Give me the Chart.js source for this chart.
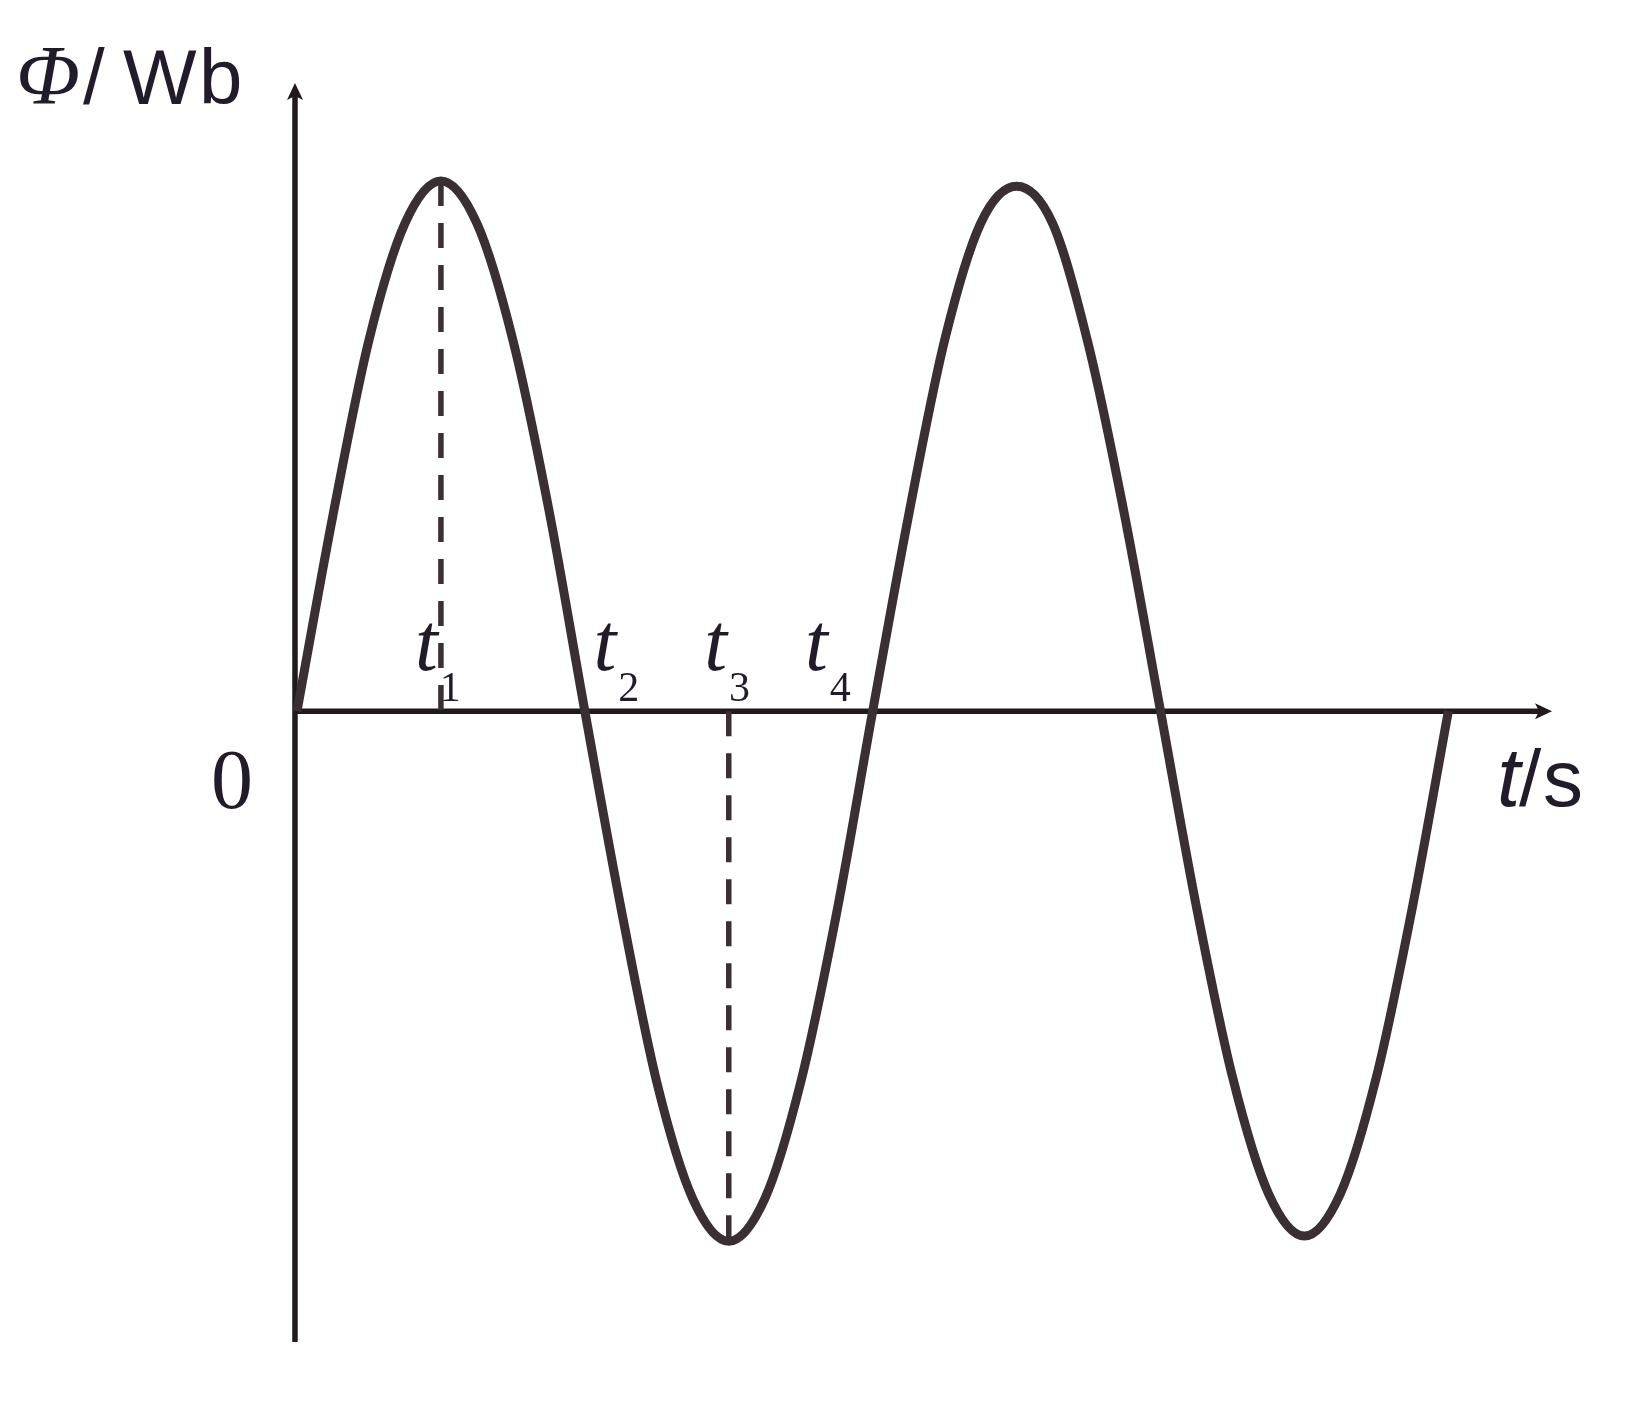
<!DOCTYPE html>
<html>
<head>
<meta charset="utf-8">
<script src="https://cdn.jsdelivr.net/npm/chart.js@4"></script>
<style>
  html, body { margin: 0; padding: 0; background: #fff; }
  canvas { display: block; }
</style>
</head>
<body>
<canvas id="myChart" width="1628" height="1404"></canvas>
<script>
// valores (t en cuartos de periodo, flujo relativo al maximo)
const tValues = [0, 0.25, 0.5, 0.75, 1, 1.25, 1.5, 1.75, 2, 2.25, 2.5, 2.75, 3, 3.25, 3.5, 3.75,
                 4, 4.25, 4.5, 4.75, 5, 5.25, 5.5, 5.75, 6, 6.25, 6.5, 6.75, 7, 7.25, 7.5, 7.75, 8];
const phiValues = [0, 0.37, 0.70, 0.92, 1.0, 0.92, 0.70, 0.38, 0, -0.37, -0.70, -0.92, -1.0, -0.92, -0.70, -0.38,
                   0, 0.37, 0.70, 0.92, 0.99, 0.92, 0.69, 0.37, 0, -0.37, -0.69, -0.91, -0.99, -0.91, -0.69, -0.37, 0];

// lineas discontinuas en t1 y t3
const markTimes = [1, 3];
const markPhi = [1, -1];

const tickNames = ['1', '2', '3', '4'];

const xMax = 8.72;
const yMin = -1.19;
const yMax = 1.185;

const curveColor = '#3a2f33';
const axisColor = '#211a1c';
const textColor = '#221b2a';

// ejes con flechas y textos
const axesPlugin = {
  id: 'axes',
  beforeDatasetsDraw(chart) {
    const ctx = chart.ctx;
    const x = chart.scales.x, y = chart.scales.y;
    const x0 = x.getPixelForValue(0);
    const y0 = y.getPixelForValue(0);
    const xEnd = x.getPixelForValue(xMax);
    const yTop = y.getPixelForValue(yMax);
    const yBot = y.getPixelForValue(yMin);
    ctx.save();
    ctx.strokeStyle = axisColor;
    ctx.fillStyle = axisColor;
    ctx.lineWidth = 5.5;
    ctx.beginPath();
    ctx.moveTo(x0 - 2, y0);
    ctx.lineTo(xEnd - 8, y0);
    ctx.stroke();
    ctx.beginPath();
    ctx.moveTo(x0 - 2, yBot);
    ctx.lineTo(x0 - 2, yTop + 8);
    ctx.stroke();
    // flecha x
    ctx.beginPath();
    ctx.moveTo(xEnd, y0);
    ctx.lineTo(xEnd - 17, y0 - 8);
    ctx.lineTo(xEnd - 13, y0);
    ctx.lineTo(xEnd - 17, y0 + 8);
    ctx.closePath();
    ctx.fill();
    // flecha y
    ctx.beginPath();
    ctx.moveTo(x0 - 2, yTop);
    ctx.lineTo(x0 - 10, yTop + 17);
    ctx.lineTo(x0 - 2, yTop + 13);
    ctx.lineTo(x0 + 6, yTop + 17);
    ctx.closePath();
    ctx.fill();
    ctx.restore();
  },
  afterDatasetsDraw(chart) {
    const ctx = chart.ctx;
    const x = chart.scales.x;
    ctx.save();
    ctx.fillStyle = textColor;
    ctx.textBaseline = 'alphabetic';
    ctx.textAlign = 'left';

    // titulo eje y
    ctx.font = 'italic 84px "Liberation Serif"';
    ctx.fillText('Φ', 16, 104);
    ctx.font = '78px "Liberation Sans"';
    ctx.fillText('/', 83, 104);
    ctx.fillText('W', 123, 104);
    ctx.fillText('b', 199, 104);

    // origen
    ctx.font = '84px "Liberation Serif"';
    ctx.fillText('0', 211, 808);

    // titulo eje x
    ctx.font = 'italic 84px "Liberation Sans"';
    ctx.fillText('t', 1497, 806);
    ctx.font = '80px "Liberation Sans"';
    ctx.fillText('/', 1519, 806);
    ctx.fillText('s', 1543, 806);

    // etiquetas t1..t4
    const tLeft = [0.82, 2.06, 2.83, 3.53];
    tickNames.forEach((n, i) => {
      const px = x.getPixelForValue(tLeft[i]);
      ctx.font = 'italic 82px "Liberation Serif"';
      ctx.fillText('t', px, 670);
      const w = ctx.measureText('t').width;
      ctx.font = '42px "Liberation Serif"';
      ctx.fillText(n, px + w + 2, 701);
    });
    ctx.restore();
  }
};

const ctx = document.getElementById('myChart').getContext('2d');
const myChart = new Chart(ctx, {
  type: 'line',
  data: {
    datasets: [
      {
        data: tValues.map((t, i) => ({ x: t, y: phiValues[i] })),
        borderColor: curveColor,
        borderWidth: 9,
        pointRadius: 0,
        cubicInterpolationMode: 'monotone',
        fill: false,
        clip: false
      },
      {
        data: [{ x: markTimes[0], y: markPhi[0] }, { x: markTimes[0], y: 0 }],
        borderColor: curveColor,
        borderWidth: 5.5,
        borderDash: [25, 17],
        pointRadius: 0,
        fill: false,
        clip: false
      },
      {
        data: [{ x: markTimes[1], y: 0 }, { x: markTimes[1], y: markPhi[1] }],
        borderColor: curveColor,
        borderWidth: 5.5,
        borderDash: [25, 17],
        pointRadius: 0,
        fill: false,
        clip: false
      }
    ]
  },
  options: {
    responsive: false,
    animation: false,
    layout: { padding: { left: 297, right: 76, top: 83, bottom: 62 } },
    plugins: { legend: { display: false }, tooltip: { enabled: false } },
    scales: {
      x: { type: 'linear', min: 0, max: xMax, display: false },
      y: { min: yMin, max: yMax, display: false }
    }
  },
  plugins: [axesPlugin]
});
</script>
</body>
</html>
